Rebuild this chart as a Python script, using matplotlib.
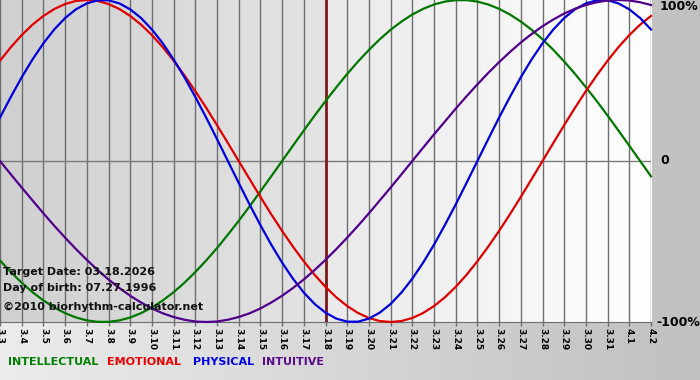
import numpy as np
import matplotlib
matplotlib.use("Agg")
import matplotlib.pyplot as plt

# Days shown on the x axis
days = ["3.3", "3.4", "3.5", "3.6", "3.7", "3.8", "3.9", "3.10", "3.11", "3.12",
        "3.13", "3.14", "3.15", "3.16", "3.17", "3.18", "3.19", "3.20", "3.21",
        "3.22", "3.23", "3.24", "3.25", "3.26", "3.27", "3.28", "3.29", "3.30",
        "3.31", "4.1", "4.2"]
target_idx = 15  # 3.18

# Values (-1 .. 1), every half day from 3.3 to 4.2
physical = [0.270, 0.398, 0.520, 0.631, 0.731, 0.817, 0.888, 0.942, 0.979, 0.998,
            0.998, 0.979, 0.942, 0.888, 0.817, 0.731, 0.631, 0.520, 0.398, 0.270,
            0.136, 0.000, -0.136, -0.270, -0.398, -0.520, -0.631, -0.731, -0.817,
            -0.888, -0.942, -0.979, -0.998, -0.998, -0.979, -0.942, -0.888, -0.817,
            -0.731, -0.631, -0.520, -0.398, -0.270, -0.136, 0.000, 0.136, 0.270,
            0.398, 0.520, 0.631, 0.731, 0.817, 0.888, 0.942, 0.979, 0.998, 0.998,
            0.979, 0.942, 0.888, 0.817]
emotional = [0.623, 0.707, 0.782, 0.847, 0.901, 0.944, 0.975, 0.994, 1.000, 0.994,
             0.975, 0.944, 0.901, 0.847, 0.782, 0.707, 0.623, 0.532, 0.434, 0.331,
             0.223, 0.112, 0.000, -0.112, -0.223, -0.331, -0.434, -0.532, -0.623,
             -0.707, -0.782, -0.847, -0.901, -0.944, -0.975, -0.994, -1.000, -0.994,
             -0.975, -0.944, -0.901, -0.847, -0.782, -0.707, -0.623, -0.532, -0.434,
             -0.331, -0.223, -0.112, 0.000, 0.112, 0.223, 0.331, 0.434, 0.532, 0.623,
             0.707, 0.782, 0.847, 0.901]
intellectual = [-0.618, -0.690, -0.756, -0.815, -0.866, -0.910, -0.945, -0.972, -0.990,
                -0.999, -0.999, -0.990, -0.972, -0.945, -0.910, -0.866, -0.815, -0.756,
                -0.690, -0.618, -0.541, -0.458, -0.372, -0.282, -0.189, -0.095, 0.000,
                0.095, 0.189, 0.282, 0.372, 0.458, 0.541, 0.618, 0.690, 0.756, 0.815,
                0.866, 0.910, 0.945, 0.972, 0.990, 0.999, 0.999, 0.990, 0.972, 0.945,
                0.910, 0.866, 0.815, 0.756, 0.690, 0.618, 0.541, 0.458, 0.372, 0.282,
                0.189, 0.095, 0.000, -0.095]
intuitive = [0.000, -0.083, -0.165, -0.245, -0.325, -0.402, -0.476, -0.547, -0.614,
             -0.677, -0.736, -0.789, -0.837, -0.879, -0.916, -0.946, -0.969, -0.986,
             -0.997, -1.000, -0.997, -0.986, -0.969, -0.946, -0.916, -0.879, -0.837,
             -0.789, -0.736, -0.677, -0.614, -0.547, -0.476, -0.402, -0.325, -0.245,
             -0.165, -0.083, 0.000, 0.083, 0.165, 0.245, 0.325, 0.402, 0.476, 0.547,
             0.614, 0.677, 0.736, 0.789, 0.837, 0.879, 0.916, 0.946, 0.969, 0.986,
             0.997, 1.000, 0.997, 0.986, 0.969]

W, H = 700, 380
fig = plt.figure(figsize=(W / 100, H / 100), dpi=100)

# background gradient for the whole picture
bg = fig.add_axes([0, 0, 1, 1], zorder=-10)
grad = np.linspace(0, 1, 256)
bg.imshow(np.vstack([grad, grad]), aspect="auto", cmap=matplotlib.colors.LinearSegmentedColormap.from_list(
    "bg", ["#ececec", "#c0c0c0"]), extent=[0, 1, 0, 1])
bg.axis("off")

ax = fig.add_axes([0, 1 - 322 / H, 651 / W, 322 / H])
x = np.arange(len(days))
xh = np.arange(len(physical)) / 2

# plot area shading: darker before the target date, lighter after
g1 = np.linspace(0, 1, 128)
ax.imshow(np.vstack([g1, g1]), aspect="auto", zorder=0,
          cmap=matplotlib.colors.LinearSegmentedColormap.from_list("l", ["#d0d0d0", "#e4e4e4"]),
          extent=[0, target_idx, -1, 1])
ax.imshow(np.vstack([g1, g1]), aspect="auto", zorder=0,
          cmap=matplotlib.colors.LinearSegmentedColormap.from_list("r", ["#eaeaea", "#ffffff"]),
          extent=[target_idx, len(days) - 1, -1, 1])
ax.set_xlim(0, len(days) - 1)
ax.set_ylim(-1, 1)

for xi in x:
    ax.axvline(xi, color="#6e6e6e", lw=1, zorder=1)
ax.axhline(0, color="#7a7a7a", lw=1, zorder=1)
ax.axvline(target_idx, color="#7a1a1a", lw=2, zorder=2)

ax.plot(xh, intellectual, color="#007800", lw=1.6, zorder=3, clip_on=False)
ax.plot(xh, emotional, color="#e00000", lw=1.6, zorder=3, clip_on=False)
ax.plot(xh, physical, color="#0000dd", lw=1.6, zorder=3, clip_on=False)
ax.plot(xh, intuitive, color="#50008c", lw=1.6, zorder=3, clip_on=False)

for s in ["top", "left", "right"]:
    ax.spines[s].set_visible(False)
ax.spines["bottom"].set_color("#6e6e6e")
ax.set_yticks([])
ax.set_xticks(x)
ax.set_xticklabels(days, rotation=-90, fontsize=6.5, fontweight="bold")
ax.tick_params(axis="x", length=3, width=1, color="#6e6e6e", pad=1)

# info text inside the plot
bold = dict(fontweight="bold", fontsize=8, color="#111111")
fig.text(3 / W, 1 - 272 / H, "Target Date: 03.18.2026", va="center", ha="left", **bold)
fig.text(3 / W, 1 - 288 / H, "Day of birth: 07.27.1996", va="center", ha="left", **bold)
fig.text(3 / W, 1 - 307 / H, "\u00a92010 biorhythm-calculator.net", va="center", ha="left", **bold)

# right side percentage labels
fig.text(660 / W, 1 - 7 / H, "100%", va="center", ha="left", fontweight="bold", fontsize=9)
fig.text(660 / W, 1 - 161 / H, "0", va="center", ha="left", fontweight="bold", fontsize=9)
fig.text(656 / W, 1 - 322 / H, "-100%", va="center", ha="left", fontweight="bold", fontsize=9)

# legend words
legend = [("INTELLECTUAL", "#008000", 8), ("EMOTIONAL", "#ee0000", 107),
          ("PHYSICAL", "#0000ee", 193), ("INTUITIVE", "#5a0a8c", 262)]
for word, col, px in legend:
    fig.text(px / W, 1 - 362 / H, word, color=col, va="center", ha="left",
             fontweight="bold", fontsize=8)

fig.savefig("out.png", dpi=100)
